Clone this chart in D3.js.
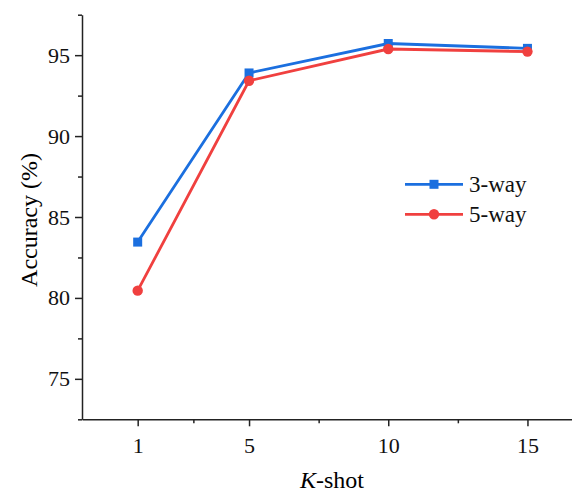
<!DOCTYPE html>
<html>
<head>
<meta charset="utf-8">
<script src="https://cdn.jsdelivr.net/npm/d3@7"></script>
<style>
  body { margin: 0; background: #fff; }
  svg { display: block; }
</style>
</head>
<body>
<div id="chart"></div>
<script>
var shots = [1, 5, 10, 15];
var way3 = [83.45, 93.9, 95.72, 95.42];
var way5 = [80.45, 93.42, 95.38, 95.22];
var yMajor = [75, 80, 85, 90, 95];
var yMinor = [72.5, 77.5, 82.5, 87.5, 92.5, 97.5];
var xMinor = [3, 7.5, 12.5];

var width = 572, height = 494;
var blue = "#1b6fdf", red = "#f0403f";
var serif = "Liberation Serif";

var svg = d3.select("#chart")
  .append("svg")
  .attr("width", width)
  .attr("height", height);

var x = d3.scaleLinear().domain([-1, 16.6]).range([82, 572]);
var y = d3.scaleLinear().domain([72.5, 97.5]).range([419.3, 14.7]);

// axes
var xAxis = svg.append("g")
  .attr("transform", "translate(0," + y(72.5) + ")")
  .call(d3.axisBottom(x).tickValues(shots).tickSize(7).tickPadding(6).tickSizeOuter(0));
xAxis.selectAll("text").attr("dy", "0.95em");

svg.append("g")
  .attr("transform", "translate(0," + y(72.5) + ")")
  .call(d3.axisBottom(x).tickValues(xMinor).tickSize(4).tickSizeOuter(0).tickFormat(""))
  .select(".domain").remove();

var yAxis = svg.append("g")
  .attr("transform", "translate(" + x(-1) + ",0)")
  .call(d3.axisLeft(y).tickValues(yMajor).tickSize(7).tickPadding(5).tickSizeOuter(0));

svg.append("g")
  .attr("transform", "translate(" + x(-1) + ",0)")
  .call(d3.axisLeft(y).tickValues(yMinor).tickSize(4).tickSizeOuter(0).tickFormat(""))
  .select(".domain").remove();

svg.selectAll(".tick text")
  .style("font-family", serif)
  .style("font-size", "22px")
  .attr("fill", "#111");
svg.selectAll(".domain, .tick line").attr("stroke", "#222").attr("stroke-width", 1.5);

// titles
svg.append("text")
  .attr("x", 332).attr("y", 488)
  .attr("text-anchor", "middle")
  .style("font-family", serif)
  .style("font-size", "24px")
  .html('<tspan font-style="italic">K</tspan>-shot');

svg.append("text")
  .attr("transform", "translate(37,220) rotate(-90)")
  .attr("text-anchor", "middle")
  .style("font-family", serif)
  .style("font-size", "24px")
  .text("Accuracy (%)");

// series
var series = [
  { name: "3-way", values: way3, color: blue, shape: "square" },
  { name: "5-way", values: way5, color: red, shape: "circle" }
];

var line = d3.line()
  .x(function(d, i) { return x(shots[i]); })
  .y(function(d) { return y(d); });

function drawMarker(g, cx, cy, s) {
  if (s.shape === "square") {
    g.append("rect").attr("x", cx - 4.5).attr("y", cy - 4.5)
      .attr("width", 9).attr("height", 9).attr("fill", s.color);
  } else {
    g.append("circle").attr("cx", cx).attr("cy", cy).attr("r", 5.2).attr("fill", s.color);
  }
}

series.forEach(function(s) {
  svg.append("path")
    .datum(s.values)
    .attr("d", line)
    .attr("fill", "none")
    .attr("stroke", s.color)
    .attr("stroke-width", 2.8);
});
series.forEach(function(s) {
  var g = svg.append("g");
  s.values.forEach(function(v, i) { drawMarker(g, x(shots[i]), y(v), s); });
});

// legend
var legend = svg.append("g");
series.forEach(function(s, i) {
  var ly = 184.3 + i * 30;
  legend.append("line")
    .attr("x1", 405).attr("x2", 463).attr("y1", ly).attr("y2", ly)
    .attr("stroke", s.color).attr("stroke-width", 2.8);
  drawMarker(legend, 434, ly, s);
  legend.append("text")
    .attr("x", 469).attr("y", ly).attr("dy", "0.35em")
    .style("font-family", serif)
    .style("font-size", "23px")
    .attr("fill", "#111")
    .text(s.name);
});
</script>
</body>
</html>
